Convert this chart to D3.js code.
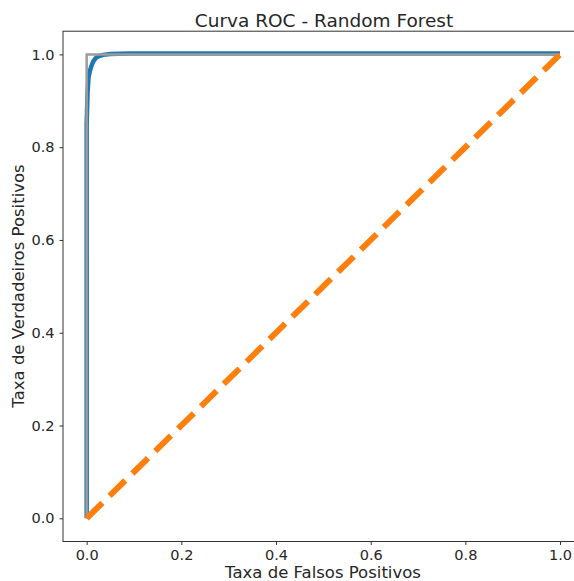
<!DOCTYPE html>
<html><head><meta charset="utf-8">
<script src="https://cdn.jsdelivr.net/npm/d3@7"></script>
<style>body{margin:0;background:#fff;} text{font-family:"DejaVu Sans",sans-serif;fill:#262626;}</style>
</head><body>
<svg id="c" width="574" height="581"></svg>
<script>
const rocFpr = [0, 0, 0.002, 0.004, 0.007, 0.010, 0.014, 0.019, 0.025, 0.035, 0.05, 0.09, 1];
const rocTpr = [0, 0.85, 0.92, 0.95, 0.965, 0.975, 0.985, 0.992, 0.996, 0.999, 1.001, 1.002, 1.002];
const idealFpr = [0, 0, 1];
const idealTpr = [0, 1, 1];
const chanceFpr = [0, 1];
const chanceTpr = [0, 1];
const tickValues = [0, 0.2, 0.4, 0.6, 0.8, 1.0];

const svg = d3.select("#c");
const x = d3.scaleLinear().domain([-0.05, 1.05]).range([63, 583.7]);
const y = d3.scaleLinear().domain([-0.05, 1.05]).range([541.5, 31.2]);

const line = d3.line().x(d => x(d[0])).y(d => y(d[1]));
svg.append("clipPath").attr("id","pc").append("rect")
  .attr("x",63).attr("y",31.2).attr("width",520.7).attr("height",510.3);
const g = svg.append("g").attr("clip-path","url(#pc)");

g.append("path").datum(rocFpr.map((v,i)=>[v,rocTpr[i]])).attr("d",line)
  .attr("fill","none").attr("stroke","#1f77b4").attr("stroke-width",4.5).attr("stroke-linejoin","round");
g.append("path").datum(idealFpr.map((v,i)=>[v,idealTpr[i]])).attr("d",line)
  .attr("fill","none").attr("stroke","#9c9c9c").attr("stroke-width",2.5);
g.append("path").datum(chanceFpr.map((v,i)=>[v,chanceTpr[i]])).attr("d",line)
  .attr("fill","none").attr("stroke","#ff7f0e").attr("stroke-width",6).attr("stroke-dasharray","22,10");

svg.append("rect").attr("x",63).attr("y",31.2).attr("width",520.7).attr("height",510.3)
  .attr("fill","none").attr("stroke","#333").attr("stroke-width",1);

const xa = svg.append("g").attr("transform","translate(0,541.5)")
  .call(d3.axisBottom(x).tickValues(tickValues).tickFormat(d3.format(".1f")).tickSizeOuter(0).tickSize(3.5).tickPadding(5));
const ya = svg.append("g").attr("transform","translate(63,0)")
  .call(d3.axisLeft(y).tickValues(tickValues).tickFormat(d3.format(".1f")).tickSizeOuter(0).tickSize(3.5).tickPadding(5));
[xa,ya].forEach(a=>{a.select(".domain").remove();a.selectAll("line").attr("stroke","#333");
  a.selectAll("text").attr("font-size",14.5).attr("font-family","DejaVu Sans").attr("fill","#262626");});

svg.append("text").attr("x",324).attr("y",27).attr("text-anchor","middle").attr("font-size",18.5).text("Curva ROC - Random Forest");
svg.append("text").attr("x",323).attr("y",578).attr("text-anchor","middle").attr("font-size",16.5).text("Taxa de Falsos Positivos");
svg.append("text").attr("transform","translate(24,286) rotate(-90)").attr("text-anchor","middle").attr("font-size",16.5).text("Taxa de Verdadeiros Positivos");
</script>
</body></html>
